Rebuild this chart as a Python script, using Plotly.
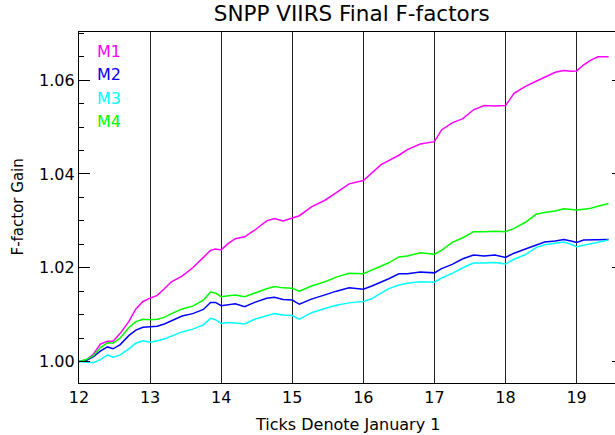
import plotly.graph_objects as go

years = [12.0, 12.1, 12.2, 12.3, 12.4, 12.48, 12.58, 12.7, 12.8, 12.9,
         13.0, 13.1, 13.2, 13.3, 13.45, 13.6, 13.75, 13.85, 13.92, 14.0,
         14.1, 14.2, 14.33, 14.47, 14.64, 14.75, 14.87, 15.0, 15.1, 15.27,
         15.46, 15.62, 15.8, 16.0, 16.12, 16.25, 16.35, 16.5, 16.62, 16.8,
         17.0, 17.1, 17.25, 17.4, 17.55, 17.7, 17.85, 18.0, 18.12, 18.28,
         18.43, 18.55, 18.7, 18.82, 18.92, 19.0, 19.1, 19.2, 19.3, 19.45]

m1 = [1.0000, 1.0003, 1.0015, 1.0037, 1.0043, 1.0043, 1.0060, 1.0085, 1.0112, 1.0128,
      1.0135, 1.0141, 1.0155, 1.0170, 1.0182, 1.0200, 1.0222, 1.0237, 1.0240, 1.0238,
      1.0252, 1.0262, 1.0266, 1.0280, 1.0300, 1.0305, 1.0300, 1.0307, 1.0311, 1.0330,
      1.0344, 1.0360, 1.0379, 1.0386, 1.0403, 1.0420, 1.0428, 1.0440, 1.0452, 1.0464,
      1.0469, 1.0494, 1.0509, 1.0518, 1.0537, 1.0546, 1.0545, 1.0546, 1.0572, 1.0587,
      1.0598, 1.0606, 1.0617, 1.0621, 1.0619, 1.0620, 1.0633, 1.0643, 1.0650, 1.0650]

m2 = [1.0000, 1.0002, 1.0010, 1.0022, 1.0031, 1.0027, 1.0036, 1.0055, 1.0067, 1.0073,
      1.0074, 1.0075, 1.0080, 1.0087, 1.0097, 1.0102, 1.0111, 1.0126, 1.0126, 1.0119,
      1.0121, 1.0123, 1.0117, 1.0126, 1.0135, 1.0137, 1.0132, 1.0131, 1.0122, 1.0133,
      1.0142, 1.0150, 1.0157, 1.0154, 1.0161, 1.0169, 1.0176, 1.0187, 1.0187, 1.0191,
      1.0189, 1.0198, 1.0207, 1.0219, 1.0227, 1.0225, 1.0227, 1.0222, 1.0231, 1.0240,
      1.0249, 1.0255, 1.0257, 1.0260, 1.0257, 1.0254, 1.0259, 1.0259, 1.0259, 1.0260]

m3 = [1.0000, 0.9999, 0.9997, 1.0004, 1.0014, 1.0009, 1.0014, 1.0027, 1.0039, 1.0044,
      1.0041, 1.0044, 1.0048, 1.0054, 1.0063, 1.0069, 1.0078, 1.0092, 1.0089, 1.0081,
      1.0083, 1.0082, 1.0080, 1.0090, 1.0097, 1.0102, 1.0099, 1.0098, 1.0090, 1.0104,
      1.0113, 1.0120, 1.0125, 1.0128, 1.0134, 1.0145, 1.0155, 1.0163, 1.0167, 1.0170,
      1.0169, 1.0178, 1.0188, 1.0200, 1.0210, 1.0210, 1.0211, 1.0208, 1.0218, 1.0228,
      1.0243, 1.0249, 1.0252, 1.0255, 1.0250, 1.0245, 1.0248, 1.0251, 1.0254, 1.0259]

m4 = [1.0000, 1.0004, 1.0012, 1.0029, 1.0040, 1.0039, 1.0050, 1.0072, 1.0085, 1.0090,
      1.0089, 1.0090, 1.0094, 1.0102, 1.0112, 1.0118, 1.0131, 1.0148, 1.0146, 1.0138,
      1.0140, 1.0142, 1.0138, 1.0146, 1.0155, 1.0160, 1.0157, 1.0156, 1.0150, 1.0161,
      1.0170, 1.0180, 1.0188, 1.0187, 1.0195, 1.0204, 1.0210, 1.0223, 1.0225, 1.0232,
      1.0229, 1.0237, 1.0254, 1.0264, 1.0277, 1.0277, 1.0278, 1.0277, 1.0284, 1.0297,
      1.0314, 1.0318, 1.0321, 1.0326, 1.0324, 1.0323, 1.0325, 1.0327, 1.0331, 1.0337]

series_names = ["M1", "M2", "M3", "M4"]
series_values = [m1, m2, m3, m4]
series_colors = ["#ff00ff", "#0000ff", "#00ffff", "#00ff00"]

x_ticks = [12, 13, 14, 15, 16, 17, 18, 19]
y_ticks = [1.00, 1.02, 1.04, 1.06]
y_tick_labels = ["1.00", "1.02", "1.04", "1.06"]

FONT = "DejaVu Sans"

fig = go.Figure()
for name, vals, col in zip(series_names, series_values, series_colors):
    fig.add_trace(go.Scatter(x=years, y=vals, mode="lines", name=name,
                             line=dict(color=col, width=1.5)))

# invisible trace for right-hand axis ticks
fig.add_trace(go.Scatter(x=[years[0]], y=[m1[0]], yaxis="y2", mode="lines",
                         line=dict(width=0), showlegend=False, hoverinfo="skip"))

yrange = [0.9954, 1.0703]

# series labels (legend text) in the upper-left corner
for i, (name, col) in enumerate(zip(series_names, series_colors)):
    fig.add_annotation(text=name, xref="paper", yref="paper",
                       x=0, xshift=16, y=1, yshift=-19 - i * 23.5,
                       xanchor="left", yanchor="middle",
                       showarrow=False, font=dict(family=FONT, size=16, color=col))

# axis titles
fig.add_annotation(text="Ticks Denote January 1", xref="paper", yref="paper",
                   x=0.5, y=0, yshift=-41, xanchor="center", yanchor="middle",
                   showarrow=False, font=dict(family=FONT, size=16, color="black"))
fig.add_annotation(text="F-factor Gain", xref="paper", yref="paper",
                   x=0, xshift=-62, y=0.5, xanchor="center", yanchor="middle",
                   textangle=-90, showarrow=False,
                   font=dict(family=FONT, size=15, color="black"))

fig.update_layout(
    width=615, height=435,
    margin=dict(l=79, r=0, t=32, b=52, autoexpand=False),
    paper_bgcolor="white", plot_bgcolor="white",
    showlegend=False,
    title=dict(text="SNPP VIIRS Final F-factors", x=0.572, xanchor="center",
               y=1, yanchor="top", pad=dict(t=6),
               font=dict(family=FONT, size=21.5, color="black")),
    font=dict(family=FONT, color="black", size=16),
    xaxis=dict(range=[12, 19.54], tickvals=x_ticks, ticktext=[str(v) for v in x_ticks],
               showgrid=True, gridcolor="#222222", gridwidth=1.2,
               showline=True, linecolor="black", linewidth=1.2, mirror=True,
               ticks="", zeroline=False, automargin=False,
               tickfont=dict(family=FONT, size=16, color="black")),
    yaxis=dict(range=yrange, tickvals=y_ticks, ticktext=y_tick_labels,
               showgrid=False, zeroline=False, automargin=False,
               showline=True, linecolor="black", linewidth=1.2,
               ticks="inside", ticklen=11, tickcolor="black", tickwidth=1,
               minor=dict(ticks="inside", ticklen=5, dtick=0.005, tick0=1.0,
                          tickcolor="black", showgrid=False),
               tickfont=dict(family=FONT, size=16, color="black")),
    yaxis2=dict(range=yrange, overlaying="y", side="right", tickvals=y_ticks,
                showticklabels=False, showgrid=False, zeroline=False, showline=False,
                automargin=False, ticks="inside", ticklen=3, tickcolor="black"),
)

fig.write_html("out.html",
               config={"displayModeBar": False},
               post_script="document.body.style.margin='0px';"
                           "document.body.style.overflow='hidden';")
